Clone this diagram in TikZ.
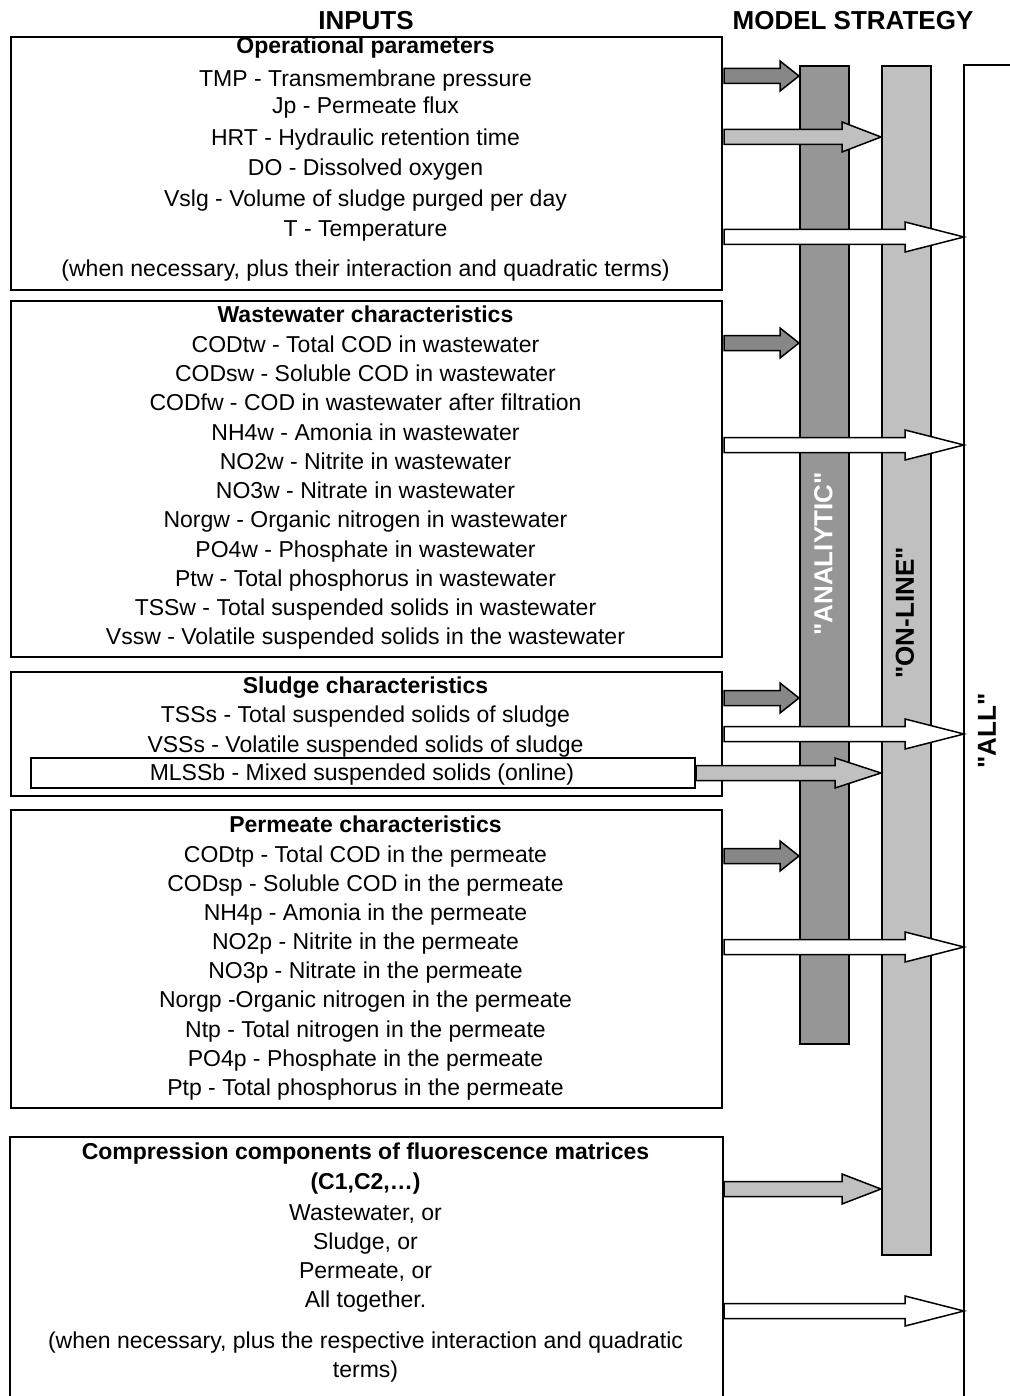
\documentclass[tikz,border=0pt]{standalone}
\usepackage{fontspec}
\setmainfont{Liberation Sans}[Ligatures=TeXOff]
\usetikzlibrary{calc, positioning}
\definecolor{darkbar}{RGB}{150,150,150}
\definecolor{darkarrow}{RGB}{135,135,135}
\definecolor{lightbar}{RGB}{192,192,192}
\tikzstyle{inbox} = [rectangle, draw, line width=1pt, anchor=north west, inner sep=0pt, minimum width=355.5pt]
\tikzstyle{heading} = [font=\fontsize{11.5}{14}\selectfont\bfseries, anchor=base, inner sep=0pt]
\tikzstyle{entry} = [anchor=base, inner sep=0pt]
\tikzstyle{colhead} = [font=\fontsize{13}{15}\selectfont\bfseries, anchor=base, inner sep=0pt]
\tikzstyle{strategy} = [rectangle, draw, line width=1pt, anchor=north west, inner sep=0pt, minimum width=24.5pt]
\tikzstyle{stratlabel} = [font=\fontsize{13}{15}\selectfont\bfseries, rotate=90, inner sep=0pt]
\tikzstyle{fatdark} = [draw, line width=0.75pt, fill=darkarrow]
\tikzstyle{fatlight} = [draw, line width=0.75pt, fill=lightbar]
\tikzstyle{fatwhite} = [draw, line width=0.75pt, fill=white]
% block arrow: style, tail, target bar, head length
\newcommand{\blockarrow}[4]{%
  \draw[#1] ($(#2)+(0,-7.5)$) -- ($(#3.west |- #2)+(-#4,-7.5)$) -- ($(#3.west |- #2)+(-#4,-15)$)
    -- (#3.west |- #2) -- ($(#3.west |- #2)+(-#4,15)$) -- ($(#3.west |- #2)+(-#4,7.5)$)
    -- ($(#2)+(0,7.5)$) -- cycle;}

\begin{document}
\begin{tikzpicture}[x=0.5pt, y=-0.5pt, font=\fontsize{11.5}{14}\selectfont]
    \useasboundingbox (0,0) rectangle (1010,1396);

    % Column headers
    \node (inputs) [colhead] at (366,30) {INPUTS};
    \node (strategy) [colhead] at (853,30) {MODEL STRATEGY};

    % Input boxes
    \node (op_box) [inbox, minimum height=126.5pt] at (10,36) {};
    \node (ww_box) [inbox, minimum height=178pt] at (10,300) {};
    \node (sl_box) [inbox, minimum height=62pt] at (10,671) {};
    \node (mlss_box) [inbox, minimum width=332pt, minimum height=15pt] at (30,757) {};
    \node (pe_box) [inbox, minimum height=149pt] at (10,809) {};
    \node (fl_box) [inbox, draw=none, minimum height=129.5pt] at (10,1137) {};
    \draw [line width=1pt] (fl_box.south west) -- (fl_box.north west) -- (fl_box.north east) -- (fl_box.south east);

    % Operational parameters
    \node (op_title) [heading] at (365.5,54) {Operational parameters};
    \node (op_tmp) [entry] at (365.5,87) {TMP - Transmembrane pressure};
    \node (op_jp) [entry] at (365.5,114) {Jp - Permeate flux};
    \node (op_hrt) [entry] at (365.5,146) {HRT - Hydraulic retention time};
    \node (op_do) [entry] at (365.5,176) {DO - Dissolved oxygen};
    \node (op_vslg) [entry] at (365.5,206) {Vslg - Volume of sludge purged per day};
    \node (op_t) [entry] at (365.5,236) {T - Temperature};
    \node (op_note) [entry] at (365.5,276) {(when necessary, plus their interaction and quadratic terms)};

    % Wastewater characteristics
    \node (ww_title) [heading] at (365.5,322) {Wastewater characteristics};
    \node (ww_codt) [entry] at (365.5,352) {CODtw - Total COD in wastewater};
    \node (ww_cods) [entry] at (365.5,381) {CODsw - Soluble COD in wastewater};
    \node (ww_codf) [entry] at (365.5,410) {CODfw - COD in wastewater after filtration};
    \node (ww_nh4) [entry] at (365.5,440) {NH4w - Amonia in wastewater};
    \node (ww_no2) [entry] at (365.5,469) {NO2w - Nitrite in wastewater};
    \node (ww_no3) [entry] at (365.5,498) {NO3w - Nitrate in wastewater};
    \node (ww_norg) [entry] at (365.5,527) {Norgw - Organic nitrogen in wastewater};
    \node (ww_po4) [entry] at (365.5,557) {PO4w - Phosphate in wastewater};
    \node (ww_pt) [entry] at (365.5,586) {Ptw - Total phosphorus in wastewater};
    \node (ww_tss) [entry] at (365.5,615) {TSSw - Total suspended solids in wastewater};
    \node (ww_vss) [entry] at (365.5,644) {Vssw - Volatile suspended solids in the wastewater};

    % Sludge characteristics
    \node (sl_title) [heading] at (365.5,693) {Sludge characteristics};
    \node (sl_tss) [entry] at (365.5,722) {TSSs - Total suspended solids of sludge};
    \node (sl_vss) [entry] at (365.5,752) {VSSs - Volatile suspended solids of sludge};
    \node (sl_mlss) [entry] at (362,780) {MLSSb - Mixed suspended solids (online)};

    % Permeate characteristics
    \node (pe_title) [heading] at (365.5,832) {Permeate characteristics};
    \node (pe_codt) [entry] at (365.5,862) {CODtp - Total COD in the permeate};
    \node (pe_cods) [entry] at (365.5,891) {CODsp - Soluble COD in the permeate};
    \node (pe_nh4) [entry] at (365.5,920) {NH4p - Amonia in the permeate};
    \node (pe_no2) [entry] at (365.5,949) {NO2p - Nitrite in the permeate};
    \node (pe_no3) [entry] at (365.5,978) {NO3p - Nitrate in the permeate};
    \node (pe_norg) [entry] at (365.5,1007) {Norgp -Organic nitrogen in the permeate};
    \node (pe_nt) [entry] at (365.5,1037) {Ntp - Total nitrogen in the permeate};
    \node (pe_po4) [entry] at (365.5,1066) {PO4p - Phosphate in the permeate};
    \node (pe_pt) [entry] at (365.5,1095) {Ptp - Total phosphorus in the permeate};

    % Fluorescence components
    \node (fl_title) [heading] at (365.5,1159) {Compression components of fluorescence matrices};
    \node (fl_comp) [heading] at (365.5,1189) {(C1,C2,…)};
    \node (fl_ww) [entry] at (365.5,1220) {Wastewater, or};
    \node (fl_sl) [entry] at (365.5,1249) {Sludge, or};
    \node (fl_pe) [entry] at (365.5,1278) {Permeate, or};
    \node (fl_all) [entry] at (365.5,1307) {All together.};
    \node (fl_note) [entry] at (365.5,1348) {(when necessary, plus the respective interaction and quadratic};
    \node (fl_terms) [entry] at (365.5,1377) {terms)};

    % Model strategy bars
    \node (analytic) [strategy, fill=darkbar, minimum height=489pt] at (799,65) {};
    \node (online) [strategy, fill=lightbar, minimum height=594.5pt] at (881,65) {};
    \node (all_bar) [strategy, draw=none, minimum width=23pt, minimum height=665.5pt] at (964,65) {};
    \draw [line width=1pt] (all_bar.south west) -- (all_bar.north west) -- (all_bar.north east);

    \node (analytic_label) [stratlabel, text=white] at (823.5,554) {"ANALIYTIC"};
    \node (online_label) [stratlabel] at (905,613) {"ON-LINE"};
    \node (all_label) [stratlabel] at (987,731) {"ALL"};

    % ==== Arrows
    \coordinate (op_a1) at (724,76);
    \coordinate (op_a2) at (724,137);
    \coordinate (op_a3) at (724,237);
    \coordinate (ww_a1) at (724,343);
    \coordinate (ww_a2) at (724,445);
    \coordinate (sl_a1) at (724,698);
    \coordinate (sl_a2) at (724,734);
    \coordinate (pe_a1) at (724,856);
    \coordinate (pe_a2) at (724,947);
    \coordinate (fl_a1) at (724,1189);
    \coordinate (fl_a2) at (724,1311);

    % Analytic
    \blockarrow{fatdark}{op_a1}{analytic}{19}
    \blockarrow{fatdark}{ww_a1}{analytic}{19}
    \blockarrow{fatdark}{sl_a1}{analytic}{19}
    \blockarrow{fatdark}{pe_a1}{analytic}{19}

    % On-line
    \blockarrow{fatlight}{op_a2}{online}{39}
    \blockarrow{fatlight}{mlss_box.east}{online}{46}
    \blockarrow{fatlight}{fl_a1}{online}{39}

    % All
    \blockarrow{fatwhite}{op_a3}{all_bar}{59}
    \blockarrow{fatwhite}{ww_a2}{all_bar}{59}
    \blockarrow{fatwhite}{sl_a2}{all_bar}{59}
    \blockarrow{fatwhite}{pe_a2}{all_bar}{59}
    \blockarrow{fatwhite}{fl_a2}{all_bar}{59}

\end{tikzpicture}
\end{document}
